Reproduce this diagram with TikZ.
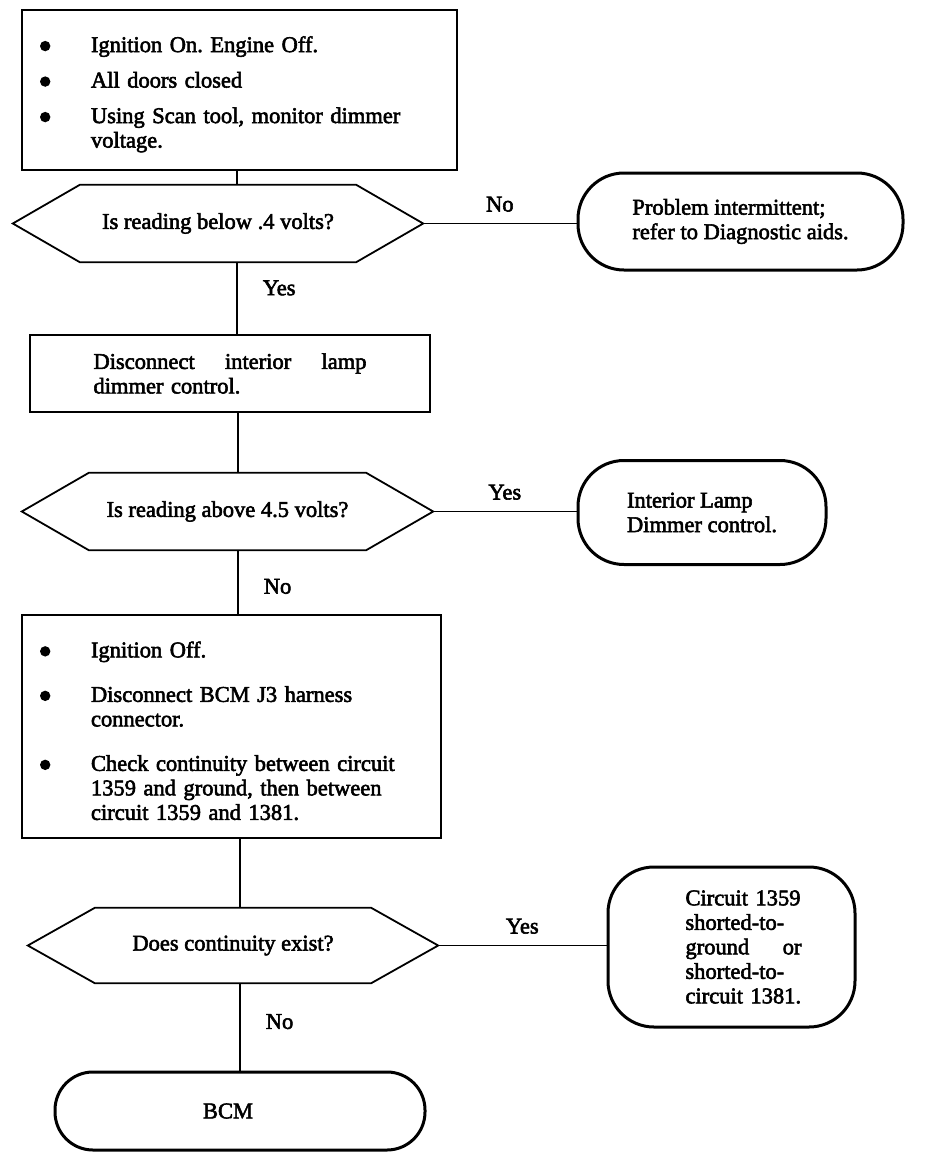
\documentclass[tikz,border=0pt]{standalone}
\usepackage{fontspec}
\setmainfont{Liberation Serif}[RawFeature={embolden=2.5}]
\usetikzlibrary{positioning}

\newcommand{\bulletmark}{\tikz[baseline=-6pt]\fill (0,0) circle (5.2pt);}
\newcommand{\itm}[2][0pt]{\par\vskip#1\relax\hangindent=51pt\hangafter=1\noindent\makebox[51pt][l]{\bulletmark}#2\par}

\begin{document}
\frenchspacing
\begin{tikzpicture}[x=1pt,y=-1pt,
    every node/.style={font=\fontsize{22.5}{24.5}\selectfont},
    stepbox/.style={draw, line width=2.6pt, inner sep=0pt, align=left},
    decision/.style={inner sep=0pt, align=center},
    endbox/.style={draw, line width=3pt, rounded corners=46pt, inner sep=0pt, align=left},
    link/.style={line width=1.6pt},
    answer/.style={inner sep=3pt}]

\useasboundingbox (0,0) rectangle (928,1168);

% steps and checks
\node[stepbox, minimum width=435pt, minimum height=160pt, text width=399pt] (check1) at (239.5,90)
    {\itm{Ignition On. Engine Off.}\itm[11pt]{All doors closed}\itm[11pt]{Using Scan tool, monitor dimmer\newline voltage.}};
\node[decision, minimum width=410pt, minimum height=77pt] (read1) at (218,223.5) {Is reading below .4 volts?};
\node[endbox, minimum width=325pt, minimum height=97pt] (intermit) at (740.5,221.5) {Problem intermittent;\\refer to Diagnostic aids.};

\node[stepbox, minimum width=400pt, minimum height=77pt, text width=273pt] (unplug) at (230,373.5)
    {Disconnect\hfill interior\hfill lamp\newline dimmer control.};
\node[decision, minimum width=411pt, minimum height=77pt] (read2) at (227.5,511.5) {Is reading above 4.5 volts?};
\node[endbox, minimum width=248pt, minimum height=104pt] (dimmer) at (702,512.5) {Interior Lamp\\Dimmer control.};

\node[stepbox, minimum width=419pt, minimum height=223pt, text width=383pt] (check2) at (231.5,726.5)
    {\itm{Ignition Off.}\itm[20pt]{Disconnect BCM J3 harness\newline connector.}\itm[20pt]{Check continuity between circuit\newline 1359 and ground, then between\newline circuit 1359 and 1381.}};
\node[decision, minimum width=410pt, minimum height=75pt] (cont) at (233,945.5) {Does continuity exist?};
\node[endbox, minimum width=247pt, minimum height=160pt, text width=140pt] (shorted) at (731.5,947)
    {\leftskip=24pt Circuit 1359\newline shorted-to-\newline ground\hfill or\newline shorted-to-\newline circuit 1381.\par};

\node[endbox, rounded corners=38pt, minimum width=370pt, minimum height=78pt, align=center] (bcm) at (240,1111) {BCM\hspace*{24pt}};

% hexagon outlines
\foreach \q in {read1,read2,cont} {
    \draw[line width=1.8pt] (\q.west) -- ([xshift=67pt]\q.north west) -- ([xshift=-67pt]\q.north east)
        -- (\q.east) -- ([xshift=-67pt]\q.south east) -- ([xshift=67pt]\q.south west) -- cycle;
}

% connectors
\coordinate (col1) at (237,0);
\coordinate (col2) at (238,0);
\coordinate (col3) at (240,0);

\draw[link] (check1.south -| col1) -- (read1.north -| col1);
\draw[link] (read1.south -| col1) -- node[answer, pos=0.36, anchor=west, xshift=22pt] {Yes} (unplug.north -| col1);
\draw[link] (read1.east) -- node[answer, above=8pt] {No} (intermit.west |- read1.east);

\draw[link] (unplug.south -| col2) -- (read2.north -| col2);
\draw[link] (read2.south -| col2) -- node[answer, pos=0.57, anchor=west, xshift=22pt] {No} (check2.north -| col2);
\draw[link] (read2.east) -- node[answer, above=8pt] {Yes} (dimmer.west |- read2.east);

\draw[link] (check2.south -| col3) -- (cont.north -| col3);
\draw[link] (cont.south -| col3) -- node[answer, pos=0.44, anchor=west, xshift=22pt] {No} (bcm.north -| col3);
\draw[link] (cont.east) -- node[answer, above=8pt] {Yes} (shorted.west |- cont.east);

\end{tikzpicture}
\end{document}
